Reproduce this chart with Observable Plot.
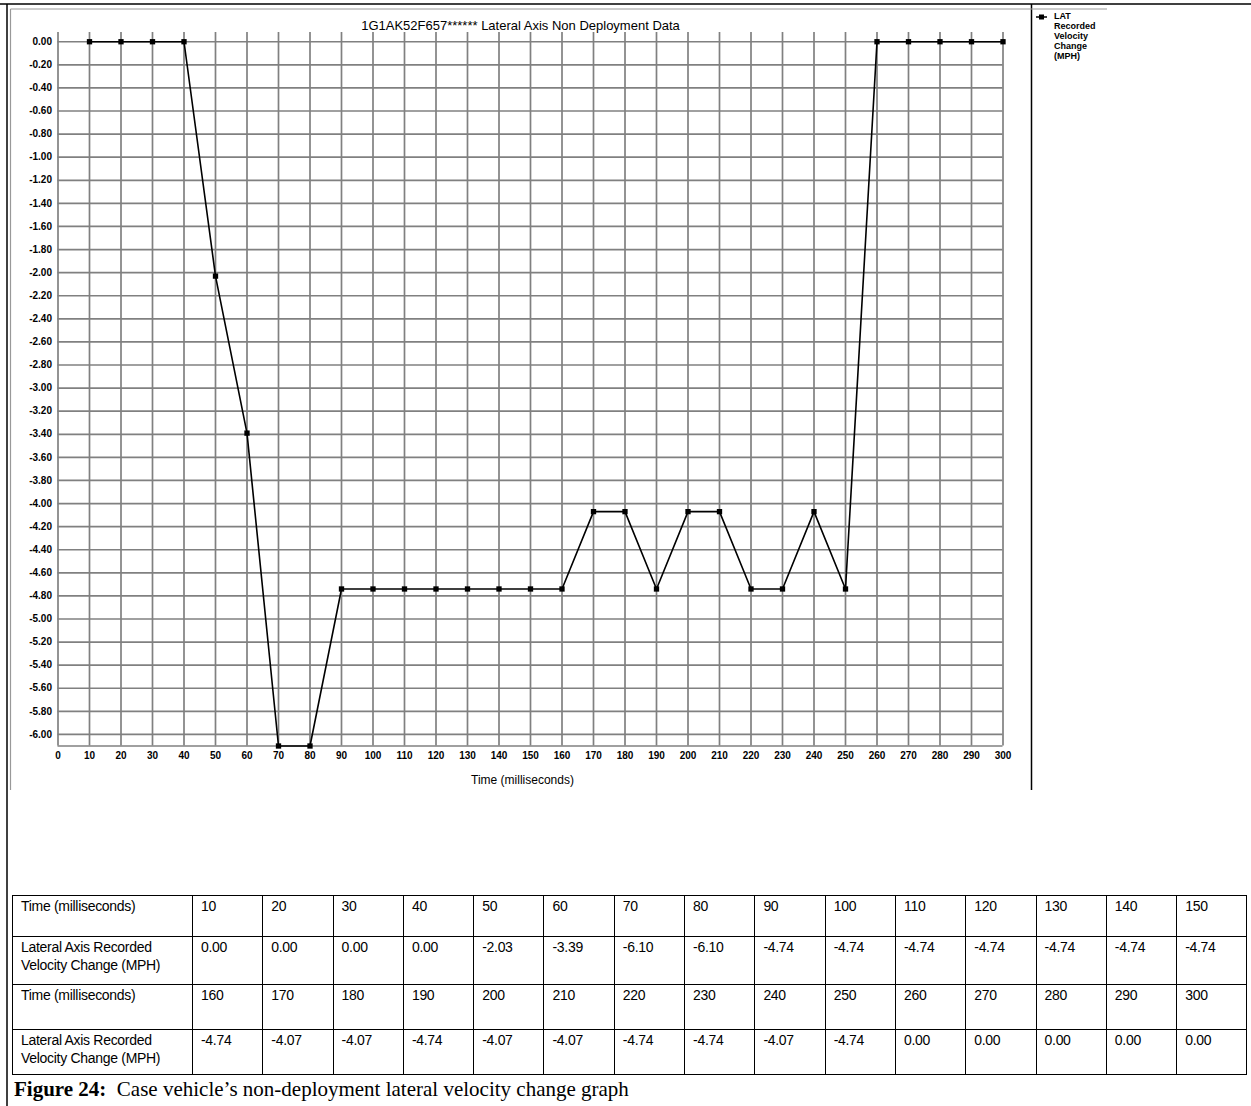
<!DOCTYPE html>
<html><head><meta charset="utf-8">
<script src="https://cdn.jsdelivr.net/npm/d3@7"></script>
<script src="https://cdn.jsdelivr.net/npm/@observablehq/plot@0.6"></script>
<style>
body{margin:0;background:#fff;}
#page{position:relative;width:1251px;height:1106px;overflow:hidden;font-family:"Liberation Sans",Arial,sans-serif;background:#fff;}
#chart{position:absolute;left:0;top:0;}
#overlay{position:absolute;left:0;top:0;pointer-events:none;}
#tbl{position:absolute;left:12px;top:895px;border-collapse:collapse;table-layout:fixed;font-family:"Liberation Sans",Arial,sans-serif;font-size:14px;color:#000;letter-spacing:-0.3px;}
#tbl td{border:1.5px solid #000;vertical-align:top;padding:1px 0 0 8px;line-height:18px;white-space:nowrap;overflow:hidden;box-sizing:border-box;}
#caption{position:absolute;left:14px;top:1077px;font-family:"Liberation Serif","Times New Roman",serif;font-size:21px;color:#000;white-space:nowrap;}
</style></head><body>
<div id="page">
  <div id="chart"></div>
  <svg id="overlay" width="1251" height="1106"></svg>
  <table id="tbl"></table>
  <div id="caption"><b>Figure 24:</b>&nbsp; Case vehicle’s non-deployment lateral velocity change graph</div>
</div>
<script>
// ---- data ----
const times = [10,20,30,40,50,60,70,80,90,100,110,120,130,140,150,
               160,170,180,190,200,210,220,230,240,250,260,270,280,290,300];
const velocity = [0.00,0.00,0.00,0.00,-2.03,-3.39,-6.10,-6.10,-4.74,-4.74,-4.74,-4.74,-4.74,-4.74,-4.74,
                  -4.74,-4.07,-4.07,-4.74,-4.07,-4.07,-4.74,-4.74,-4.07,-4.74,0.00,0.00,0.00,0.00,0.00];
const xTicks = d3.range(0, 301, 10);
const yTicks = d3.range(0, 31).map(i => -i / 5);
const xDomain = [0, 300];
const yDomain = [-6.1, 0.08];
const chartTitle = "1G1AK52F657****** Lateral Axis Non Deployment Data";
const xLabel = "Time (milliseconds)";
const legendLines = ["LAT", "Recorded", "Velocity", "Change", "(MPH)"];
const rowLabelTime = "Time (milliseconds)";
const rowLabelVel = ["Lateral Axis Recorded", "Velocity Change (MPH)"];

const data = times.map((t, i) => ({t, v: velocity[i]}));

const gridStyle = {stroke: "#808080", strokeOpacity: 1, strokeWidth: 1.7};
const chart = Plot.plot({
  width: 1031, height: 790,
  marginLeft: 57.5, marginRight: 28.5, marginTop: 32, marginBottom: 44.5,
  x: {domain: xDomain},
  y: {domain: yDomain},
  style: {fontFamily: "'Liberation Sans', Arial, sans-serif", fontSize: "10px", color: "#000", background: "transparent", overflow: "visible"},
  marks: [
    Plot.gridX(xTicks, gridStyle),
    Plot.gridY(yTicks, gridStyle),
    Plot.ruleY([yDomain[0]], gridStyle),
    Plot.axisX(xTicks, {tickSize: 0, tickPadding: 6, label: null, tickFormat: d => String(d), fontWeight: "bold", fontSize: 10}),
    Plot.axisY(yTicks, {tickSize: 0, tickPadding: 6, label: null, tickFormat: d => d.toFixed(2), fontWeight: "bold", fontSize: 10}),
    Plot.line(data, {x: "t", y: "v", stroke: "#000", strokeWidth: 1.6}),
    Plot.dot(data, {x: "t", y: "v", symbol: "square", fill: "#000", stroke: null, r: 3}),
    Plot.text([chartTitle], {text: d => d, frameAnchor: "top", lineAnchor: "middle", dy: -7, dx: -10, fontSize: 13, fill: "#000"}),
    Plot.text([xLabel], {text: d => d, frameAnchor: "bottom", lineAnchor: "middle", dy: 34, dx: -8, fontSize: 12, fill: "#000"})
  ]
});
document.getElementById("chart").appendChild(chart);

// ---- frames & legend (overlay) ----
const ov = d3.select("#overlay");
ov.append("line").attr("x1", 0).attr("x2", 1251).attr("y1", 4).attr("y2", 4).attr("stroke", "#000").attr("stroke-width", 1.5);
ov.append("line").attr("x1", 7).attr("x2", 7).attr("y1", 4).attr("y2", 1106).attr("stroke", "#000").attr("stroke-width", 1.5);
ov.append("line").attr("x1", 1031.5).attr("x2", 1031.5).attr("y1", 4).attr("y2", 790).attr("stroke", "#000").attr("stroke-width", 1.5);
ov.append("line").attr("x1", 10.5).attr("x2", 1107).attr("y1", 9).attr("y2", 9).attr("stroke", "#999").attr("stroke-width", 1.2);
ov.append("line").attr("x1", 10.5).attr("x2", 10.5).attr("y1", 9).attr("y2", 790).attr("stroke", "#999").attr("stroke-width", 1.2);
const lg = ov.append("g");
lg.append("line").attr("x1", 1036).attr("x2", 1047).attr("y1", 17).attr("y2", 17).attr("stroke", "#000").attr("stroke-width", 1.5);
lg.append("rect").attr("x", 1039).attr("y", 14.5).attr("width", 5).attr("height", 5).attr("fill", "#000");
legendLines.forEach((s, i) => {
  lg.append("text").attr("x", 1054).attr("y", 16 + i * 10).attr("dy", "0.35em")
    .attr("font-size", 9).attr("font-weight", "bold").attr("font-family", "'Liberation Sans', Arial, sans-serif")
    .text(s);
});

// ---- table ----
const tbl = d3.select("#tbl");
const cg = tbl.append("colgroup");
cg.append("col").style("width", "180px");
for (let i = 0; i < 15; i++) cg.append("col").style("width", "70.3px");
const rowHeights = [41, 48, 45, 45];
[0, 1].forEach(half => {
  const ts = times.slice(half * 15, half * 15 + 15);
  const vs = velocity.slice(half * 15, half * 15 + 15);
  const r1 = tbl.append("tr").style("height", rowHeights[half * 2] + "px");
  r1.append("td").text(rowLabelTime);
  ts.forEach(t => r1.append("td").text(String(t)));
  const r2 = tbl.append("tr").style("height", rowHeights[half * 2 + 1] + "px");
  r2.append("td").html(rowLabelVel.join("<br>"));
  vs.forEach(v => r2.append("td").text(v.toFixed(2)));
});
</script>
</body></html>
